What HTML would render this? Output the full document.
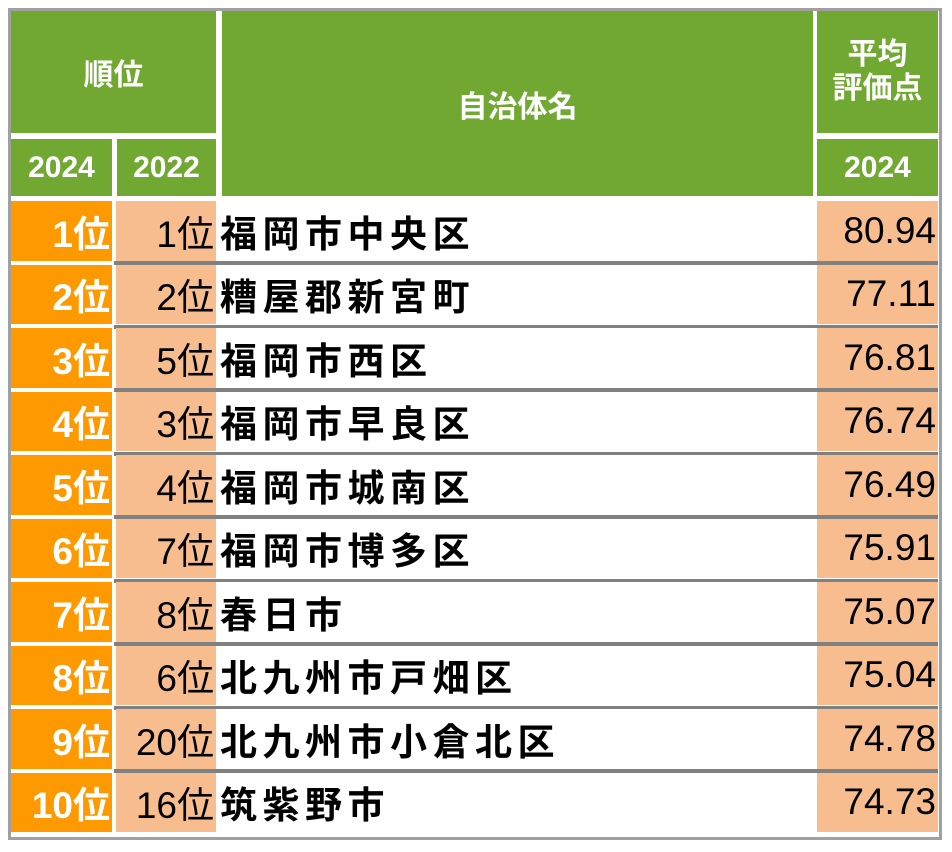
<!DOCTYPE html><html><head><meta charset="utf-8"><style>
body{margin:0;width:952px;height:852px;background:#fff;position:relative;overflow:hidden;font-family:"Liberation Sans","Noto Sans CJK JP",sans-serif}
div{position:absolute;box-sizing:border-box}
.g{background:#70a832;color:#fff;font-weight:bold;display:flex;align-items:center;justify-content:center;font-size:30px}
.c{display:flex;align-items:center;font-size:37px;white-space:nowrap}
.o{background:#ff9900;color:#fff;font-weight:bold;justify-content:flex-end;padding-right:2px}
.p{background:#f8bd8f;color:#000;justify-content:flex-end;padding-right:2px}
.n{background:#fff;font-weight:bold;letter-spacing:5.5px;padding-left:4px}
.sep{background:#808080;height:4px}
</style></head><body>
<div style="left:8px;top:8px;width:934px;height:832px;border:3px solid #a0a0a0"></div>
<div class="g" style="left:11px;top:11px;width:205px;height:122px">順位</div>
<div class="g" style="left:11px;top:139px;width:101px;height:57px">2024</div>
<div class="g" style="left:117px;top:139px;width:99px;height:57px">2022</div>
<div class="g" style="left:222px;top:11px;width:591px;height:185px">自治体名</div>
<div class="g" style="left:817px;top:11px;width:121px;height:122px;line-height:1.15;text-align:center">平均<br>評価点</div>
<div class="g" style="left:817px;top:139px;width:121px;height:57px">2024</div>
<script>
var d=[["1位","1位","福岡市中央区","80.94"],["2位","2位","糟屋郡新宮町","77.11"],["3位","5位","福岡市西区","76.81"],["4位","3位","福岡市早良区","76.74"],["5位","4位","福岡市城南区","76.49"],["6位","7位","福岡市博多区","75.91"],["7位","8位","春日市","75.07"],["8位","6位","北九州市戸畑区","75.04"],["9位","20位","北九州市小倉北区","74.78"],["10位","16位","筑紫野市","74.73"]];
var h="";
d.forEach(function(r,i){var t=201+63.5*i;var H=59.5;
h+='<div class="c o" style="left:11px;top:'+t+'px;width:101px;height:'+H+'px">'+r[0]+'</div>';
h+='<div class="c p" style="left:116px;top:'+t+'px;width:100px;height:'+H+'px">'+r[1]+'</div>';
h+='<div class="c n" style="left:216px;top:'+t+'px;width:601px;height:'+H+'px">'+r[2]+'</div>';
h+='<div class="c p" style="left:817px;top:'+t+'px;width:121px;height:'+H+'px">'+r[3]+'</div>';
if(i<9)h+='<div class="sep" style="left:114px;top:'+(t+H+0.5)+'px;width:824px"></div>';
});
document.body.insertAdjacentHTML("beforeend",h);
</script>
</body></html>
